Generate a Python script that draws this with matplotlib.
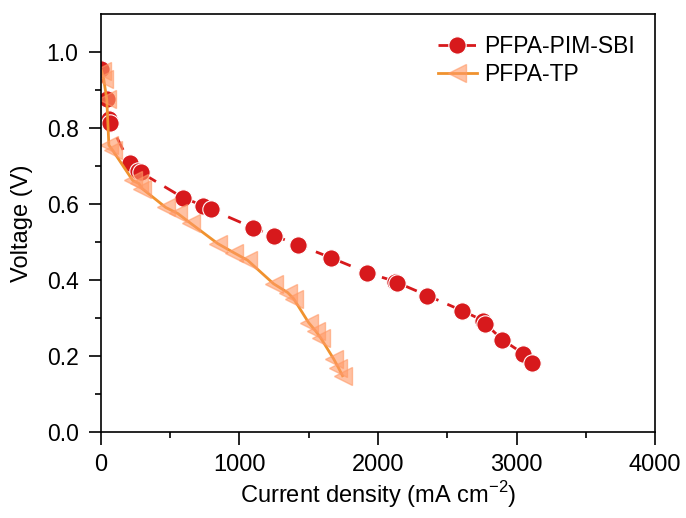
import numpy as np
import matplotlib.pyplot as plt

# PFPA-PIM-SBI polarization data
sbi_j = [0, 43, 58, 65, 209, 267, 288, 591, 735, 793, 1095, 1247, 1420, 1658,
         1924, 2126, 2140, 2357, 2609, 2760, 2775, 2897, 3049, 3114]
sbi_v = [0.955, 0.876, 0.823, 0.812, 0.707, 0.686, 0.683, 0.617, 0.596, 0.586,
         0.538, 0.517, 0.493, 0.459, 0.419, 0.396, 0.393, 0.359, 0.319, 0.293,
         0.285, 0.243, 0.206, 0.182]

# PFPA-TP polarization data
tp_j = [5, 20, 43, 58, 86, 230, 274, 300, 468, 555, 649, 843, 959, 1059,
        1247, 1348, 1391, 1499, 1550, 1586, 1679, 1715, 1744]
tp_v = [0.950, 0.930, 0.875, 0.755, 0.741, 0.662, 0.654, 0.640, 0.591, 0.575,
        0.549, 0.496, 0.472, 0.452, 0.390, 0.367, 0.351, 0.288, 0.266, 0.248,
        0.193, 0.169, 0.148]

plt.rcParams['font.family'] = ['Liberation Sans', 'DejaVu Sans']
plt.rcParams['mathtext.fontset'] = 'custom'
plt.rcParams['mathtext.rm'] = 'Liberation Sans'

fig = plt.figure(figsize=(6.86, 5.18), dpi=100)
ax = fig.add_axes([0.147, 0.166, 0.808, 0.807])

ax.plot(sbi_j, sbi_v, color='#D7191C', lw=2, ls=(0, (5, 3.5)), marker='o',
        ms=12.5, mfc='#D7191C', mec='white', mew=0.8, label='PFPA-PIM-SBI')
ax.plot(tp_j, tp_v, color='#F0922E', lw=2, ls='-', marker='<',
        ms=13, mfc=(1.0, 0.6, 0.4, 0.6), mec=(1.0, 0.6, 0.4, 0.6), mew=1,
        label='PFPA-TP')

ax.set_xlim(0, 4000)
ax.set_ylim(0, 1.1)
ax.set_xticks([0, 1000, 2000, 3000, 4000])
ax.set_xticks([500, 1500, 2500, 3500], minor=True)
ax.set_yticks([0.0, 0.2, 0.4, 0.6, 0.8, 1.0])
ax.set_yticks([0.1, 0.3, 0.5, 0.7, 0.9], minor=True)
ax.set_yticklabels(['0.0', '0.2', '0.4', '0.6', '0.8', '1.0'])

ax.tick_params(which='major', direction='out', length=9, width=1.2)
ax.tick_params(which='minor', direction='out', length=4.5, width=1.2)
ax.tick_params(axis='x', which='major', labelsize=17, pad=7)
ax.tick_params(axis='y', which='major', labelsize=16.5, pad=7)
for s in ax.spines.values():
    s.set_linewidth(1.2)

ax.set_xlabel(r'Current density (mA cm$^{\mathregular{-2}}$)', fontsize=17, labelpad=2)
ax.set_ylabel('Voltage (V)', fontsize=17, labelpad=10)

ax.legend(loc='upper right', frameon=False, fontsize=16.5, handlelength=1.7,
          handletextpad=0.3, borderaxespad=0.5, labelspacing=0.25)

fig.savefig('out.png', dpi=100)
